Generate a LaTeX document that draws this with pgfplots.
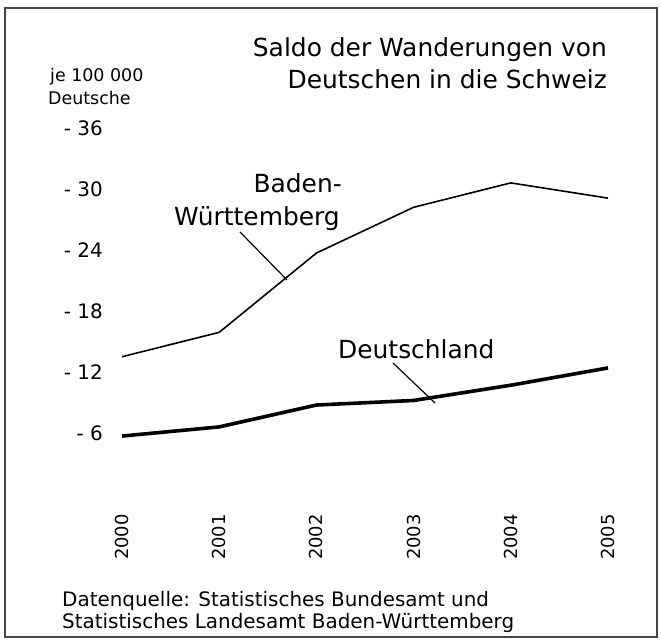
\documentclass[border=0pt]{standalone}
\usepackage{pgfplots}
\pgfplotsset{compat=1.18}
\usepackage{fontspec}
\setmainfont{DejaVu Sans}
\definecolor{frame}{RGB}{70,70,70}
\begin{document}
\begin{tikzpicture}[x=1bp,y=1bp]
\useasboundingbox (0,0) rectangle (661,641);
\draw[frame,line width=1.5bp] (5,633) rectangle (657,4);
\begin{axis}[
  at={(122bp,208bp)}, anchor=south west,
  scale only axis, width=486bp, height=305bp,
  xmin=2000, xmax=2005, ymin=6, ymax=36,
  clip=false,
  axis line style={draw=none},
  major tick length=0pt,
  xtick={2000,2001,2002,2003,2004,2005},
  xticklabels={2000,2001,2002,2003,2004,2005},
  ytick={6,12,18,24,30,36},
  yticklabels={- 6,- 12,- 18,- 24,- 30,- 36},
  yticklabel style={anchor=east, inner sep=0pt, font=\fontsize{20}{24}\selectfont},
  yticklabel shift=19bp,
  xticklabel style={rotate=90, anchor=east, inner sep=0pt, font=\fontsize{18}{22}\selectfont},
  xticklabel shift=81bp,
]
\addplot[black, line width=1.6bp] coordinates {
  (2000,13.5) (2001,15.9) (2002,23.7) (2003,28.2) (2004,30.6) (2005,29.1)};
\addplot[black, line width=3.6bp] coordinates {
  (2000,5.7) (2001,6.6) (2002,8.75) (2003,9.2) (2004,10.7) (2005,12.4)};
\end{axis}
% annotations
\draw[black, line width=1.2bp] (240,409) -- (287,361);
\draw[black, line width=1.2bp] (393,278) -- (435,238);
\node[anchor=base east, inner sep=0pt, font=\fontsize{25}{32}\selectfont] at (342,448) {Baden-};
\node[anchor=base east, inner sep=0pt, font=\fontsize{25}{32}\selectfont] at (340,415) {Württemberg};
\node[anchor=base west, inner sep=0pt, font=\fontsize{25}{32}\selectfont] at (338,282) {Deutschland};
% title
\node[anchor=base east, inner sep=0pt, font=\fontsize{25}{32}\selectfont] at (607,584) {Saldo der Wanderungen von};
\node[anchor=base east, inner sep=0pt, font=\fontsize{25}{32}\selectfont] at (607,552) {Deutschen in die Schweiz};
% unit
\node[anchor=base west, inner sep=0pt, font=\fontsize{17.5}{20}\selectfont] at (50,559) {je 100 000};
\node[anchor=base west, inner sep=0pt, font=\fontsize{17.5}{20}\selectfont] at (48,536) {Deutsche};
% source
\node[anchor=base west, inner sep=0pt, font=\fontsize{20}{22}\selectfont] at (62,34) {Datenquelle: Statistisches Bundesamt und};
\node[anchor=base west, inner sep=0pt, font=\fontsize{20}{22}\selectfont] at (62,12) {Statistisches Landesamt Baden-Württemberg};
\end{tikzpicture}
\end{document}
